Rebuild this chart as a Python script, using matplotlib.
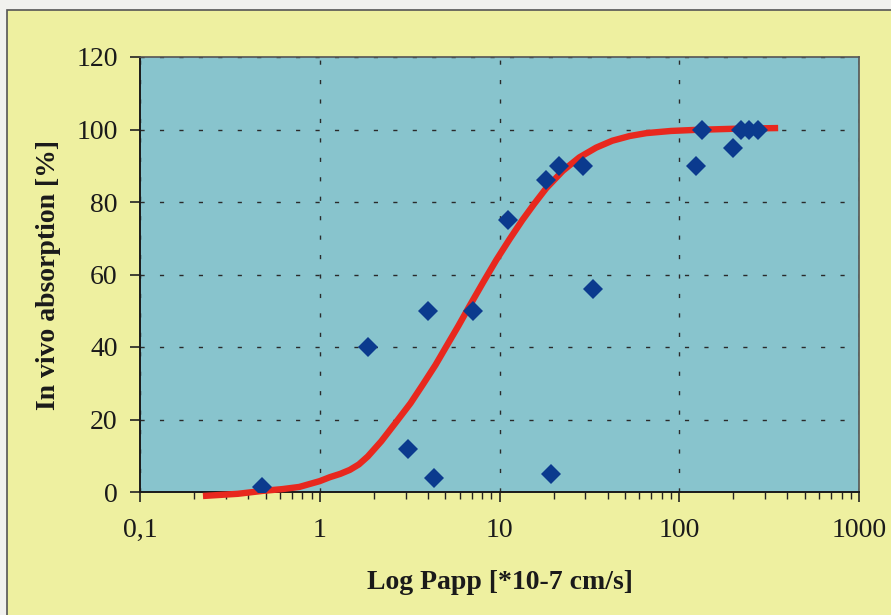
import matplotlib
matplotlib.use("Agg")
import matplotlib.pyplot as plt
from matplotlib.patches import Rectangle
from matplotlib.ticker import FixedLocator, LogLocator, NullFormatter, FuncFormatter

# Data
papp = [0.48, 1.85, 3.1, 4.0, 4.3, 7.1, 11.1, 18.2, 19.4, 21.5, 29.3, 33.3,
        124, 134, 200, 221, 245, 275]
absorption = [1.5, 40, 12, 50, 4, 50, 75, 86, 5, 90, 90, 56,
              90, 100, 95, 100, 100, 100]

fit_x = [0.224, 0.35, 0.48, 0.62, 0.77, 1.0, 1.14, 1.3, 1.47, 1.65, 1.85, 2.2,
         2.68, 3.2, 3.73, 4.4, 5.08, 5.9, 6.81, 8.1, 9.6, 11.4, 13.4, 15.6,
         18.2, 22.5, 27.8, 34.5, 42.4, 53, 65.6, 90, 124, 200, 355]
fit_y = [-1.1, -0.5, 0.3, 0.8, 1.4, 3.0, 4.1, 5.0, 6.1, 7.6, 9.8, 14.0,
         19.5, 24.5, 29.5, 35.0, 40.3, 45.8, 51.3, 57.8, 64.0, 69.8, 75.0, 79.5,
         83.8, 88.6, 92.3, 95.0, 96.9, 98.2, 99.0, 99.6, 99.9, 100.2, 100.4]

x_ticks = [0.1, 1, 10, 100, 1000]
y_ticks = [0, 20, 40, 60, 80, 100, 120]

W, H = 891, 615
fig = plt.figure(figsize=(W / 100, H / 100), dpi=100)
fig.patch.set_facecolor("#f1f1ee")
fig.patches.append(Rectangle((7 / W, -0.02), 1.02, 1.02 - 10 / H,
                             transform=fig.transFigure, facecolor="#eef0a0",
                             edgecolor="#555555", linewidth=1.2, zorder=-10))

ax = fig.add_axes([140 / W, 1 - 492 / H, (859 - 140) / W, (492 - 57) / H])
ax.set_zorder(5)
ax.set_facecolor("#88c4cd")
ax.set_xscale("log")
ax.set_xlim(0.1, 1000)
ax.set_ylim(0, 120)

ax.grid(True, which="major", color="#2a2a2a", linestyle=(0, (3, 11)), linewidth=1.0)
ax.set_axisbelow(True)

ax.plot(fit_x, fit_y, color="#e8281e", linewidth=4.6, solid_capstyle="butt",
        solid_joinstyle="round", zorder=3, clip_on=False)
ax.plot(papp, absorption, linestyle="none", marker="D", markersize=10,
        color="#0b3a8e", markeredgewidth=0, zorder=4)

ax.xaxis.set_major_locator(FixedLocator(x_ticks))
ax.xaxis.set_minor_locator(LogLocator(base=10, subs=range(2, 10)))
ax.xaxis.set_minor_formatter(NullFormatter())
ax.xaxis.set_major_formatter(FuncFormatter(
    lambda v, p: ("%g" % v).replace(".", ",")))
ax.yaxis.set_major_locator(FixedLocator(y_ticks))

serif = ["Liberation Serif", "DejaVu Serif"]
ax.tick_params(axis="both", which="major", direction="out", length=7,
               width=1.2, color="#222222", labelsize=20, labelcolor="#1a1a1a")
ax.tick_params(axis="x", which="minor", direction="out", length=5, width=1.0,
               color="#222222")
ax.tick_params(axis="x", pad=12)
ax.tick_params(axis="y", pad=9)
for lbl in ax.get_xticklabels() + ax.get_yticklabels():
    lbl.set_family(serif)

for s in ["left", "bottom"]:
    ax.spines[s].set_color("#1a1a1a")
    ax.spines[s].set_linewidth(1.4)
for s in ["top", "right"]:
    ax.spines[s].set_color("#555555")
    ax.spines[s].set_linewidth(1.2)

ax.set_xlabel("Log Papp [*10-7 cm/s]", family=serif, fontsize=20,
              fontweight="bold", color="#1a1a1a", labelpad=19)
ax.set_ylabel("In vivo absorption [%]", family=serif, fontsize=20,
              fontweight="bold", color="#1a1a1a", labelpad=11)

fig.savefig("out.png", dpi=100, facecolor=fig.get_facecolor())
